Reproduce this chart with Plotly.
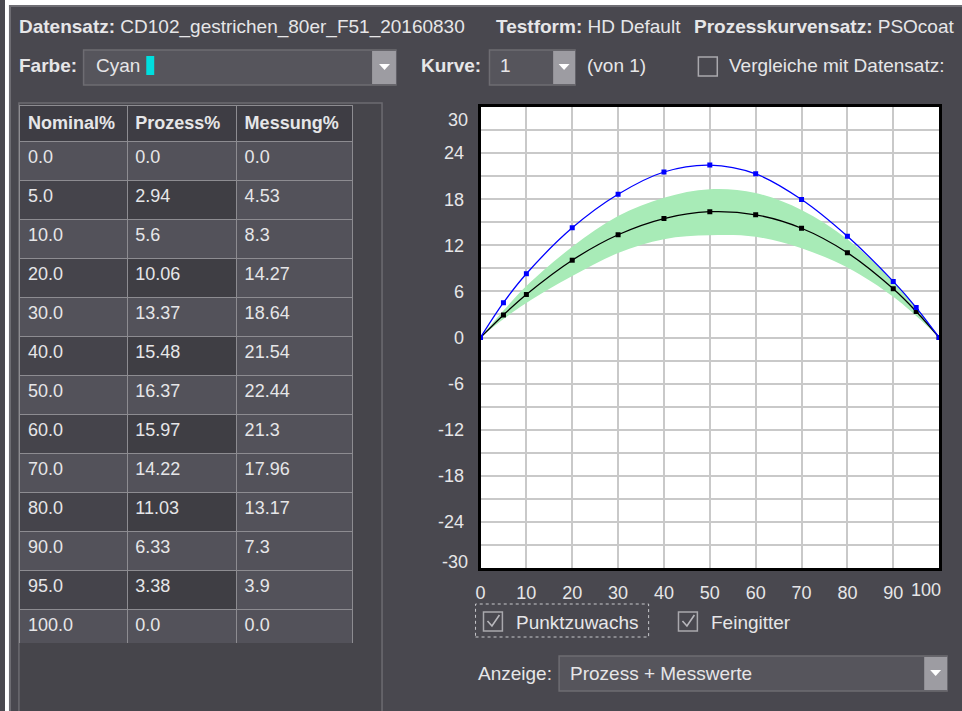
import plotly.graph_objects as go

# ---------------- data ----------------
nominal = [0.0, 5.0, 10.0, 20.0, 30.0, 40.0, 50.0, 60.0, 70.0, 80.0, 90.0, 95.0, 100.0]
prozess = [0.0, 2.94, 5.6, 10.06, 13.37, 15.48, 16.37, 15.97, 14.22, 11.03, 6.33, 3.38, 0.0]
messung = [0.0, 4.53, 8.3, 14.27, 18.64, 21.54, 22.44, 21.3, 17.96, 13.17, 7.3, 3.9, 0.0]
band_upper = [0.0, 3.5, 6.7, 11.8, 15.8, 18.2, 19.3, 18.8, 16.6, 12.8, 7.3, 3.9, 0.0]
band_lower = [0.0, 2.4, 4.5, 8.0, 11.0, 12.8, 13.3, 13.1, 11.6, 9.1, 5.3, 2.8, 0.0]
table_headers = ["Nominal%", "Prozess%", "Messung%"]
x_ticks = [0, 10, 20, 30, 40, 50, 60, 70, 80, 90, 100]
y_ticks = [-30, -27, -24, -21, -18, -15, -12, -9, -6, -3, 0, 3, 6, 9, 12, 15, 18, 21, 24, 27, 30]
y_labels = ["-30", "", "-24", "", "-18", "", "-12", "", "-6", "", "0", "", "6", "", "12", "", "18", "", "24", "", "30"]

W, H = 962, 711
BG = "#49484f"
TXT = "#e6e6e8"
FONT = "Liberation Sans"


def X(px):
    return px / W


def Y(py):
    return 1 - py / H


def rect(x0, y0, x1, y1, fill=None, line=None, lw=1, dash=None, layer="above"):
    return dict(type="rect", xref="paper", yref="paper", x0=X(x0), x1=X(x1), y0=Y(y1), y1=Y(y0),
                fillcolor=fill or "rgba(0,0,0,0)",
                line=dict(color=line or "rgba(0,0,0,0)", width=lw if line else 0, dash=dash),
                layer=layer)


def path(points, fill=None, line=None, lw=1, closed=True):
    d = "M " + " L ".join(f"{X(a):.5f},{Y(b):.5f}" for a, b in points)
    if closed:
        d += " Z"
    return dict(type="path", xref="paper", yref="paper", path=d,
                fillcolor=fill or "rgba(0,0,0,0)",
                line=dict(color=line or "rgba(0,0,0,0)", width=lw if line else 0), layer="above")


def label(x, y, s, size=19, anchor="left", color=TXT):
    return dict(xref="paper", yref="paper", x=X(x), y=Y(y), text=s, showarrow=False,
                xanchor=anchor, yanchor="middle", font=dict(family=FONT, size=size, color=color))


fig = go.Figure()

# ---------------- table ----------------
n = len(nominal)
light, dark, darker = "#53525a", "#45444b", "#3f3e44"
col_fill = [[light if i % 2 == 0 else dark for i in range(n)],
            [light if i % 2 == 0 else darker for i in range(n)],
            [light for i in range(n)]]
fig.add_trace(go.Table(
    domain=dict(x=[X(15), X(350)], y=[Y(643), Y(105)]),
    columnwidth=[108, 110, 117],
    header=dict(values=["<b>" + h + "</b>" for h in table_headers],
                fill_color="#3e3d44", line=dict(color="#8d8c91", width=1),
                align="left", height=30,
                font=dict(family=FONT, size=18, color=TXT)),
    cells=dict(values=[[str(v) for v in nominal],
                       [str(v) for v in prozess],
                       [str(v) for v in messung]],
               fill_color=col_fill, line=dict(color="#8d8c91", width=1),
               align="left", height=39,
               font=dict(family=FONT, size=18, color=TXT)),
))

# ---------------- chart ----------------
fig.add_trace(go.Scatter(x=nominal, y=band_lower, mode="lines",
                         line=dict(width=0, shape="spline", color="#a8ebb7"),
                         hoverinfo="skip", showlegend=False))
fig.add_trace(go.Scatter(x=nominal, y=band_upper, mode="lines", fill="tonexty",
                         fillcolor="#a8ebb7", line=dict(width=0, shape="spline", color="#a8ebb7"),
                         hoverinfo="skip", showlegend=False))
fig.add_trace(go.Scatter(x=nominal, y=prozess, mode="lines+markers",
                         line=dict(color="black", width=1.3, shape="spline"),
                         marker=dict(symbol="square", size=5, color="black"), showlegend=False))
fig.add_trace(go.Scatter(x=nominal, y=messung, mode="lines+markers",
                         line=dict(color="#0000ff", width=1.3, shape="spline"),
                         marker=dict(symbol="square", size=5, color="#0000ff"), showlegend=False))

grid = "#c9c9c9"
tickfont = dict(family=FONT, size=18, color=TXT)
fig.update_xaxes(domain=[X(478), X(939)], range=[0, 100], tickmode="array",
                 tickvals=x_ticks, ticktext=[str(t) if t != 100 else "" for t in x_ticks],
                 showgrid=True, gridcolor=grid, gridwidth=2, zeroline=False,
                 showline=True, mirror=True, linecolor="black", linewidth=3,
                 ticks="", ticklabelstandoff=6, tickfont=tickfont, fixedrange=True)
fig.update_yaxes(domain=[Y(568), Y(107)], range=[-30, 30], tickmode="array",
                 tickvals=y_ticks,
                 ticktext=[lab if abs(v) != 30 else "" for v, lab in zip(y_ticks, y_labels)],
                 showgrid=True, gridcolor=grid, gridwidth=2, zeroline=False,
                 showline=True, mirror=True, linecolor="black", linewidth=3,
                 ticks="", ticklabelstandoff=10, tickfont=tickfont, fixedrange=True)

annotations = [
    # edge tick labels kept inside the plot extent
    dict(xref="x", yref="y", x=100, y=-30, text="100", showarrow=False, xanchor="right",
         yanchor="top", xshift=4, yshift=-10, font=tickfont),
    dict(xref="paper", yref="y", x=X(467), y=30, text="30", showarrow=False, xanchor="right",
         yanchor="top", yshift=-1, font=tickfont),
    dict(xref="paper", yref="y", x=X(467), y=-30, text="-30", showarrow=False, xanchor="right",
         yanchor="bottom", yshift=-6, font=tickfont),
    # top rows
    label(12, 27, "<b>Datensatz:</b> CD102_gestrichen_80er_F51_20160830"),
    label(492, 27, "<b>Testform:</b> HD Default"),
    label(691, 27, "<b>Prozesskurvensatz:</b> PSOcoat"),
    label(12, 65, "<b>Farbe:</b>"),
    label(89, 65, "Cyan"),
    label(416, 65, "<b>Kurve:</b>"),
    label(496, 66, "1"),
    label(583, 66, "(von 1)"),
    label(726, 66, "Vergleiche mit Datensatz:"),
    # bottom controls
    label(512, 622, "Punktzuwachs"),
    label(708, 622, "Feingitter"),
    label(473, 673, "Anzeige:"),
    label(566, 673, "Prozess + Messwerte"),
]

shapes = [
    # white window frame strips
    rect(0, 0, W, 5, fill="white"),
    rect(0, 0, 4, H, fill="white"),
    rect(4, 5, W, 7, fill="#6f6e74"),
    rect(4, 5, 6, H, fill="#6f6e74"),
    # table panel (below the table)
    rect(14, 103, 379, H + 2, fill="#46454b", line="#6c6b71", lw=1.5, layer="below"),
    # Farbe dropdown
    rect(79, 50, 393, 85, fill="#56555c", line="#6d6c72", lw=1.5),
    rect(369, 51, 393, 84, fill="#9d9ca2"),
    rect(142, 56, 150, 75, fill="#00dede"),
    path([(376, 64), (387, 64), (381.5, 70)], fill="white"),
    # Kurve dropdown
    rect(487, 50, 573, 85, fill="#56555c", line="#6d6c72", lw=1.5),
    rect(551, 51, 573, 84, fill="#9d9ca2"),
    path([(556.5, 64), (567.5, 64), (562, 70)], fill="white"),
    # Vergleiche checkbox
    rect(697, 57, 716, 76, line="#a9a8ad", lw=1.5),
    # Punktzuwachs checkbox + focus rectangle
    rect(473, 604, 647, 637, line="#c8c8cc", lw=1, dash="dot"),
    rect(481, 612, 500, 631, line="#a9a8ad", lw=1.5),
    path([(485, 621), (489.5, 626), (497, 615)], line="#b8b7bc", lw=1.6, closed=False),
    # Feingitter checkbox
    rect(677, 612, 696, 631, line="#a9a8ad", lw=1.5),
    path([(681, 621), (685.5, 626), (693, 615)], line="#b8b7bc", lw=1.6, closed=False),
    # Anzeige dropdown
    rect(557, 656, 947, 691, fill="#56555c", line="#6d6c72", lw=1.5),
    rect(924, 657, 947, 690, fill="#9d9ca2"),
    path([(930, 670), (941, 670), (935.5, 676)], fill="white"),
]

fig.update_layout(width=W, height=H, margin=dict(l=0, r=0, t=0, b=0),
                  paper_bgcolor=BG, plot_bgcolor="white", showlegend=False,
                  annotations=annotations, shapes=shapes, hovermode=False,
                  font=dict(family=FONT, color=TXT))

fig.write_html("out.html", config={"displayModeBar": False, "staticPlot": True},
               post_script="document.body.style.margin='0';document.body.style.overflow='hidden';")
